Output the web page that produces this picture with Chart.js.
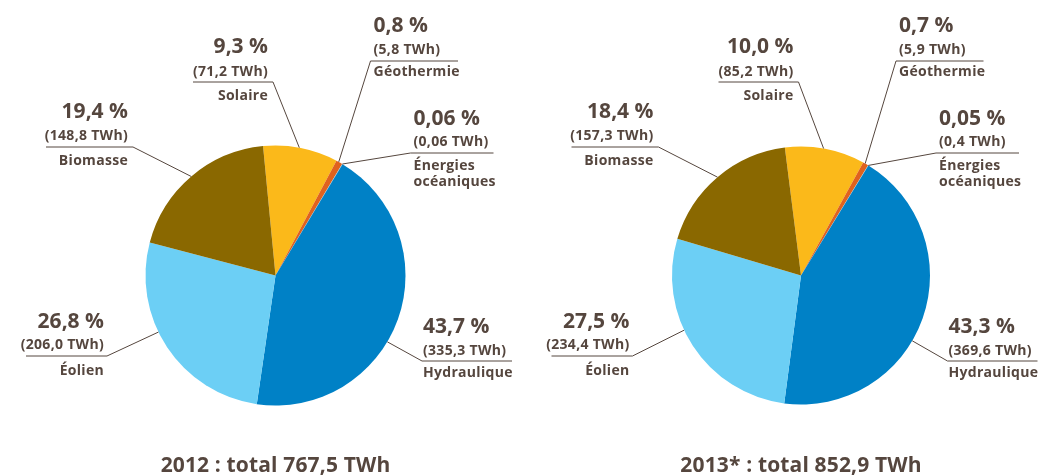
<!DOCTYPE html>
<html>
<head>
<meta charset="utf-8">
<script src="https://cdn.jsdelivr.net/npm/chart.js@4"></script>
<style>
  html, body { margin: 0; padding: 0; background: #ffffff; }
  #wrap { position: relative; width: 1040px; height: 476px; overflow: hidden; }
  canvas { position: absolute; top: 0; }
  #c2012 { left: 0; }
  #c2013 { left: 520px; }
</style>
</head>
<body>
<div id="wrap">
  <canvas id="c2012" width="520" height="476"></canvas>
  <canvas id="c2013" width="520" height="476"></canvas>
</div>
<script>
// ---- Data ----
const categories = ['Solaire', 'Géothermie', ['Énergies', 'océaniques'], 'Hydraulique', 'Éolien', 'Biomasse'];
const years = ['2012', '2013*'];
const totals = [767.5, 852.9];
const pct2012 = [9.3, 0.8, 0.06, 43.7, 26.8, 19.4];
const twh2012 = [71.2, 5.8, 0.06, 335.3, 206.0, 148.8];
const pct2013 = [10.0, 0.7, 0.05, 43.3, 27.5, 18.4];
const twh2013 = [85.2, 5.9, 0.4, 369.6, 234.4, 157.3];

// ---- Style / layout ----
const colors = ['#FBB91A', '#E0621E', '#A6C3CE', '#0081C6', '#6CCFF5', '#8A6800'];
const textColor = '#55463e';
const FONT = '"Open Sans", "DejaVu Sans", sans-serif';

// per-label layout relative to pie centre: align, text x, pct baseline, twh baseline,
// rule y, name baseline(s), rule outer x, elbow x, anchor fraction within slice
const labelLayout = [
  { align: 'right', tx: -7.5,  yp: -222.5, yt: -199.5, yl: -193.5, yn: [-175.5],          ox: -82.5,  ex: -2.5,   t: 0.48 },
  { align: 'left',  tx: 98,    yp: -243.5, yt: -221.5, yl: -214.5, yn: [-200],            ox: 182.5,  ex: 95,     t: 0.40 },
  { align: 'left',  tx: 138,   yp: -150.5, yt: -129.5, yl: -122.5, yn: [-105.5, -89.5],   ox: 218,    ex: 135,    t: 0.50 },
  { align: 'left',  tx: 147.5, yp: 57.5,   yt: 79.5,   yl: 85.5,   yn: [101.5],           ox: 236.5,  ex: 146.5,  t: 0.57 },
  { align: 'right', tx: -171.5,yp: 52.5,   yt: 73.5,   yl: 80.5,   yn: [99.5],            ox: -249.5, ex: -168.5, t: 0.58 },
  { align: 'right', tx: -147.5,yp: -157.5, yt: -135.5, yl: -128.5, yn: [-110.5],          ox: -229.5, ex: -142.5, t: 0.50 }
];

function fr(n) {
  return n.toLocaleString('fr-FR', { minimumFractionDigits: 1, maximumFractionDigits: 2 });
}

const labelPlugin = {
  id: 'leaderLabels',
  afterDraw(chart, args, opts) {
    const ctx = chart.ctx;
    const meta = chart.getDatasetMeta(0);
    const pcts = opts.pcts, twhs = opts.twhs;
    ctx.save();
    meta.data.forEach((arc, i) => {
      const L = labelLayout[i];
      const cx = arc.x, cy = arc.y, R = arc.outerRadius;
      const a = arc.startAngle + L.t * (arc.endAngle - arc.startAngle);
      const px = cx + R * Math.cos(a), py = cy + R * Math.sin(a);
      // leader line
      ctx.strokeStyle = textColor;
      ctx.lineWidth = 1;
      ctx.beginPath();
      ctx.moveTo(cx + L.ox, cy + L.yl);
      ctx.lineTo(cx + L.ex, cy + L.yl);
      ctx.lineTo(px, py);
      ctx.stroke();
      // texts
      ctx.fillStyle = textColor;
      ctx.textAlign = L.align;
      ctx.textBaseline = 'alphabetic';
      const x = cx + L.tx;
      ctx.font = 'bold 21px ' + FONT;
      ctx.letterSpacing = '0px';
      ctx.fillText(fr(pcts[i]) + ' %', x, cy + L.yp);
      ctx.font = 'bold 14px ' + FONT;
      ctx.letterSpacing = '0.3px';
      ctx.fillText('(' + fr(twhs[i]) + ' TWh)', x, cy + L.yt);
      const names = [].concat(chart.data.labels[i]);
      names.forEach((nm, k) => ctx.fillText(nm, x, cy + L.yn[k]));
    });
    // title
    const c0 = meta.data[0];
    ctx.font = 'bold 21px ' + FONT;
    ctx.letterSpacing = '0.15px';
    ctx.textAlign = 'center';
    ctx.fillText(opts.title, c0.x, 472);
    ctx.restore();
  }
};

function makePie(id, pcts, twhs, title, cx, cy, r, rotation) {
  const W = 520, H = 476;
  return new Chart(document.getElementById(id), {
    type: 'pie',
    data: {
      labels: categories,
      datasets: [{
        data: pcts,
        backgroundColor: colors,
        borderWidth: 0
      }]
    },
    options: {
      responsive: false,
      animation: false,
      devicePixelRatio: 1,
      rotation: rotation,
      layout: { padding: { left: cx - r, right: W - cx - r, top: cy - r, bottom: H - cy - r } },
      plugins: {
        legend: { display: false },
        tooltip: { enabled: false },
        leaderLabels: { pcts: pcts, twhs: twhs, title: title }
      }
    },
    plugins: [labelPlugin]
  });
}

makePie('c2012', pct2012, twh2012, years[0] + ' : total ' + fr(totals[0]) + ' TWh', 275.5, 275.5, 130, -5.5);
makePie('c2013', pct2013, twh2013, years[1] + ' : total ' + fr(totals[1]) + ' TWh', 281, 275.5, 129, -7.2);
</script>
</body>
</html>
